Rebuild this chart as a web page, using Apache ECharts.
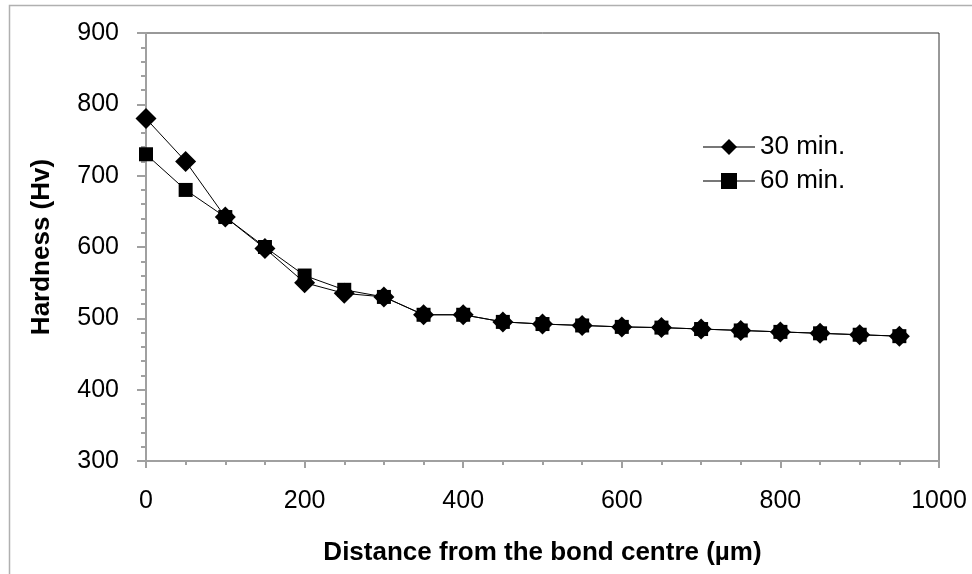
<!DOCTYPE html>
<html>
<head>
<meta charset="utf-8">
<script src="https://cdn.jsdelivr.net/npm/echarts@6/dist/echarts.min.js"></script>
<style>
  html, body { margin: 0; padding: 0; background: #fff; }
  #main { width: 972px; height: 574px; }
</style>
</head>
<body>
<div id="main"></div>
<script>
var distance = [0, 50, 100, 150, 200, 250, 300, 350, 400, 450, 500, 550, 600, 650, 700, 750, 800, 850, 900, 950];
var hardness30 = [780, 720, 642, 598, 550, 535, 530, 505, 505, 495, 492, 490, 488, 487, 485, 483, 481, 479, 477, 475];
var hardness60 = [730, 680, 642, 600, 560, 540, 530, 505, 505, 495, 492, 490, 488, 487, 485, 483, 481, 479, 477, 475];
var yTicks = [300, 400, 500, 600, 700, 800, 900];
var xTicks = [0, 200, 400, 600, 800, 1000];

function pairs(xs, ys) {
    var out = [];
    for (var i = 0; i < xs.length; i++) {
        out.push([xs[i], ys[i]]);
    }
    return out;
}

var font = 'Liberation Sans, Arial, sans-serif';
var myChart = echarts.init(document.getElementById('main'));
var option = {
    backgroundColor: '#fff',
    animation: false,
    textStyle: { fontFamily: font },
    graphic: [{
        type: 'rect',
        shape: { x: 9.5, y: 5.5, width: 980, height: 600 },
        style: { fill: 'none', stroke: '#b0b0b0', lineWidth: 1.5 },
        silent: true
    }],
    grid: {
        left: 146,
        top: 33,
        right: 33,
        bottom: 113,
        show: true,
        borderColor: '#333',
        borderWidth: 1
    },
    legend: {
        orient: 'vertical',
        left: 697,
        top: 129,
        itemWidth: 52,
        itemHeight: 20,
        itemGap: 8,
        lineStyle: { color: '#777' },
        textStyle: { fontSize: 26, color: '#000', fontFamily: font },
        data: ['30 min.', '60 min.']
    },
    xAxis: {
        type: 'value',
        min: 0,
        max: 1000,
        interval: 200,
        name: 'Distance from the bond centre (\u00b5m)',
        nameLocation: 'middle',
        nameGap: 79,
        nameTextStyle: { fontSize: 26, fontWeight: 'bold', color: '#000', fontFamily: font },
        axisLine: { lineStyle: { color: '#a0a0a0', width: 2 } },
        axisTick: { length: 7, lineStyle: { color: '#a0a0a0', width: 2 } },
        minorTick: { show: true, splitNumber: 4, length: 4, lineStyle: { color: '#a0a0a0', width: 2 } },
        axisLabel: {
            fontSize: 25, color: '#000', margin: 28, fontFamily: font,
            formatter: function (v) { return xTicks.indexOf(v) >= 0 ? String(v) : ''; }
        },
        splitLine: { show: false }
    },
    yAxis: {
        type: 'value',
        min: 300,
        max: 900,
        interval: 100,
        name: 'Hardness (Hv)',
        nameLocation: 'middle',
        nameRotate: 90,
        nameGap: 91,
        nameTextStyle: { fontSize: 26, fontWeight: 'bold', color: '#000', fontFamily: font },
        axisLine: { lineStyle: { color: '#a0a0a0', width: 2 } },
        axisTick: { length: 9, lineStyle: { color: '#a0a0a0', width: 2 } },
        minorTick: { show: true, splitNumber: 5, length: 5, lineStyle: { color: '#a0a0a0', width: 2 } },
        axisLabel: {
            fontSize: 25, color: '#000', margin: 27, fontFamily: font,
            formatter: function (v) { return yTicks.indexOf(v) >= 0 ? String(v) : ''; }
        },
        splitLine: { show: false }
    },
    series: [
        {
            name: '30 min.',
            type: 'line',
            data: pairs(distance, hardness30),
            symbol: 'diamond',
            symbolSize: 21,
            itemStyle: { color: '#000' },
            lineStyle: { color: '#000', width: 1 },
            z: 3
        },
        {
            name: '60 min.',
            type: 'line',
            data: pairs(distance, hardness60),
            symbol: 'rect',
            symbolSize: 14,
            itemStyle: { color: '#000' },
            lineStyle: { color: '#000', width: 1 },
            z: 2
        }
    ]
};
myChart.setOption(option);
</script>
</body>
</html>
